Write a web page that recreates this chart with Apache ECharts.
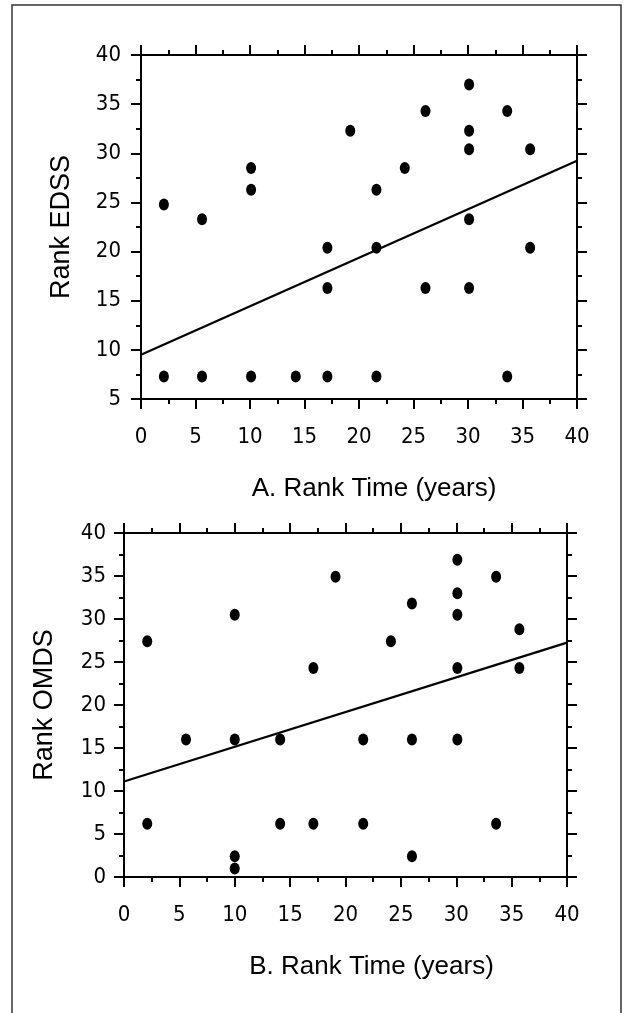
<!DOCTYPE html>
<html>
<head>
<meta charset="utf-8">
<script src="https://cdn.jsdelivr.net/npm/echarts@6/dist/echarts.min.js"></script>
<style>
html,body{margin:0;padding:0;background:#fff;}
#c{width:629px;height:1013px;}
</style>
</head>
<body>
<div id="c"></div>
<script>
// ---- data ----
var topX = [2.1, 5.6, 10.1, 10.1, 17.1, 17.1, 19.2, 21.6, 21.6, 24.2, 26.1, 26.1, 30.1, 30.1, 30.1, 30.1, 30.1, 33.6, 35.7, 35.7, 2.1, 5.6, 10.1, 14.2, 17.1, 21.6, 33.6];
var topY = [24.8, 23.3, 28.5, 26.3, 20.4, 16.3, 32.3, 26.3, 20.4, 28.5, 34.3, 16.3, 37.0, 32.3, 30.4, 23.3, 16.3, 34.3, 30.4, 20.4, 7.3, 7.3, 7.3, 7.3, 7.3, 7.3, 7.3];
var topFitX = [0, 40];
var topFitY = [9.5, 29.25];

var botX = [2.1, 2.1, 5.6, 10.0, 10.0, 10.0, 10.0, 14.1, 14.1, 17.1, 17.1, 19.1, 21.6, 21.6, 24.1, 26.0, 26.0, 26.0, 30.1, 30.1, 30.1, 30.1, 30.1, 33.6, 33.6, 35.7, 35.7];
var botY = [27.4, 6.2, 16.0, 30.5, 16.0, 2.4, 1.0, 16.0, 6.2, 24.3, 6.2, 34.9, 16.0, 6.2, 27.4, 31.8, 16.0, 2.4, 36.9, 33.0, 30.5, 24.3, 16.0, 34.9, 6.2, 28.8, 24.3];
var botFitX = [0, 40];
var botFitY = [11.1, 27.25];

var topXTitle = 'A. Rank Time (years)';
var topYTitle = 'Rank EDSS';
var botXTitle = 'B. Rank Time (years)';
var botYTitle = 'Rank OMDS';

function zip(a, b){ return a.map(function(v,i){ return [v, b[i]]; }); }

var tickFont = {fontFamily:'"Liberation Sans Narrow","DejaVu Sans Condensed","Liberation Sans",sans-serif', fontSize:22, color:'#000'};
var titleFont = {fontFamily:'"Liberation Sans",Arial,sans-serif', color:'#000'};

function axisCommon(showLabel, min, max, labelMargin){
  return {
    type:'value', min:min, max:max, interval:5,
    axisLine:{show:true, onZero:false, lineStyle:{color:'#000', width:2}},
    axisTick:{show:true, inside:false, length:10, lineStyle:{color:'#000', width:2}},
    minorTick:{show:true, splitNumber:2, length:5, lineStyle:{color:'#000', width:2}},
    splitLine:{show:false},
    minorSplitLine:{show:false},
    axisLabel:Object.assign({show:showLabel, margin:labelMargin}, tickFont)
  };
}

var xAxes = [], yAxes = [];
// grid 0 (top)
xAxes.push(Object.assign(axisCommon(true,0,40,27), {gridIndex:0, position:'bottom',
  name:topXTitle, nameLocation:'middle', nameGap:77,
  nameTextStyle:Object.assign({fontSize:26, padding:[0,0,0,30]}, titleFont)}));
xAxes.push(Object.assign(axisCommon(false,0,40,8), {gridIndex:0, position:'top'}));
yAxes.push(Object.assign(axisCommon(true,5,40,20), {gridIndex:0, position:'left',
  name:topYTitle, nameLocation:'middle', nameGap:66,
  nameTextStyle:Object.assign({fontSize:27}, titleFont)}));
yAxes.push(Object.assign(axisCommon(false,5,40,8), {gridIndex:0, position:'right'}));
// grid 1 (bottom)
xAxes.push(Object.assign(axisCommon(true,0,40,27), {gridIndex:1, position:'bottom',
  name:botXTitle, nameLocation:'middle', nameGap:77,
  nameTextStyle:Object.assign({fontSize:26, padding:[0,0,0,52]}, titleFont)}));
xAxes.push(Object.assign(axisCommon(false,0,40,8), {gridIndex:1, position:'top'}));
yAxes.push(Object.assign(axisCommon(true,0,40,18), {gridIndex:1, position:'left',
  name:botYTitle, nameLocation:'middle', nameGap:66,
  nameTextStyle:Object.assign({fontSize:27, padding:[0,0,0,0]}, titleFont)}));
yAxes.push(Object.assign(axisCommon(false,0,40,8), {gridIndex:1, position:'right'}));

var dotStyle = {color:'#000', opacity:1};
var option = {
  animation:false,
  backgroundColor:'#fff',
  graphic:[{type:'rect', shape:{x:12, y:5, width:609, height:1020},
            style:{fill:'none', stroke:'#333', lineWidth:1.5}, silent:true}],
  grid:[
    {left:141, top:55, width:436, height:344},
    {left:124, top:533, width:443, height:344}
  ],
  xAxis:xAxes,
  yAxis:yAxes,
  series:[
    {type:'scatter', xAxisIndex:0, yAxisIndex:0, symbol:'circle', symbolSize:[10,12],
     itemStyle:dotStyle, data:zip(topX, topY)},
    {type:'line', xAxisIndex:0, yAxisIndex:0, symbol:'none',
     lineStyle:{color:'#000', width:2.2}, data:zip(topFitX, topFitY)},
    {type:'scatter', xAxisIndex:2, yAxisIndex:2, symbol:'circle', symbolSize:[10,12],
     itemStyle:dotStyle, data:zip(botX, botY)},
    {type:'line', xAxisIndex:2, yAxisIndex:2, symbol:'none',
     lineStyle:{color:'#000', width:2.2}, data:zip(botFitX, botFitY)}
  ]
};
var chart = echarts.init(document.getElementById('c'), null, {renderer:'canvas'});
chart.setOption(option);
</script>
</body>
</html>
